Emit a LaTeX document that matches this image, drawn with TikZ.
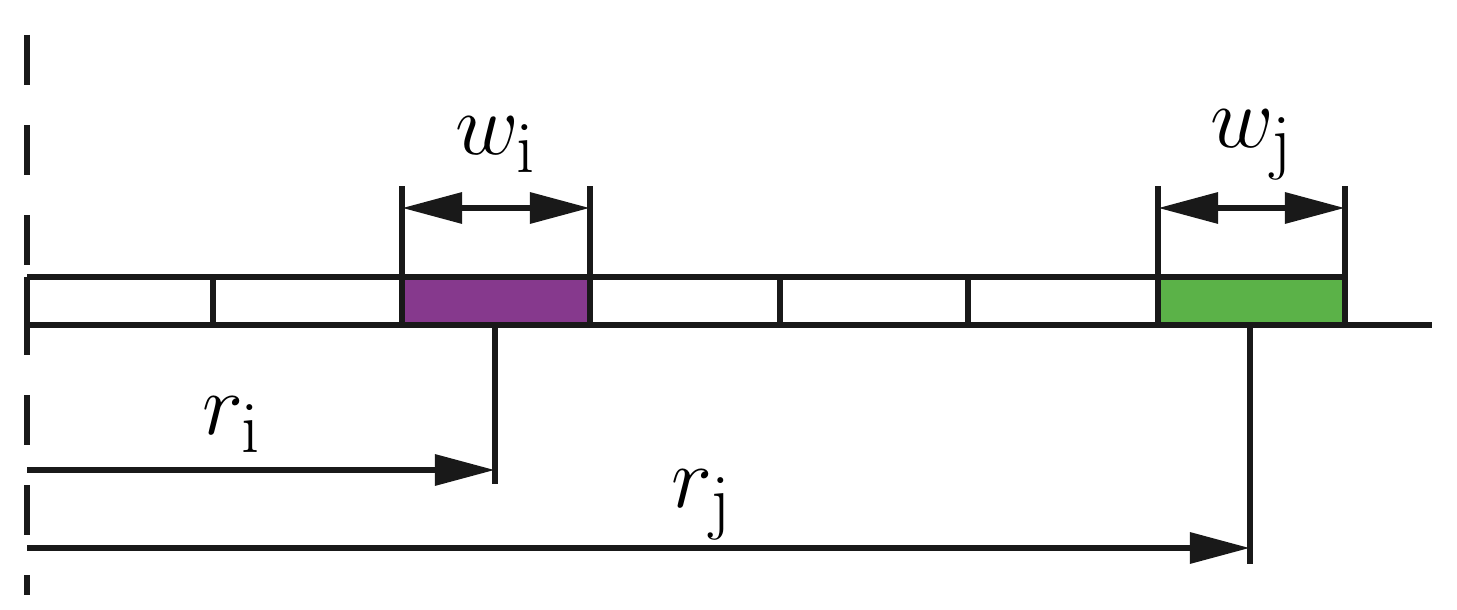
\documentclass[tikz,border=0pt]{standalone}
\usetikzlibrary{arrows.meta}
\definecolor{cellPurple}{RGB}{134,57,141}
\definecolor{cellGreen}{RGB}{91,178,72}
\tikzset{%
  >={Triangle[width=3mm,length=6mm]},
  % Specifications for style of lines and labels:
       axis/.style = {line width=1.8pt, black!90},
    refline/.style = {axis, dash pattern=on 5mm off 4mm},
     symbol/.style = {font=\fontsize{30}{36}\selectfont, inner sep=0pt},
}
\begin{document}
\begin{tikzpicture}[x=0.01cm,y=-0.01cm]
  \useasboundingbox (0,0) rectangle (1457,610);
  % Cells of the strip
  \fill[cellPurple] (402,277) rectangle (590,325);
  \fill[cellGreen] (1158,277) rectangle (1345,325);
  \draw[axis] (27,277) -- (1345,277);
  \draw[axis] (27,325) -- (1432,325);
  \foreach \x in {27,213,402,590,780,968,1158,1345}
    \draw[axis] (\x,277) -- (\x,325);
  % Reference line
  \draw[refline] (27,35) -- (27,595);
  % Width markers
  \foreach \a/\b in {402/590,1158/1345} {
    \draw[axis] (\a,277) -- (\a,186);
    \draw[axis] (\b,277) -- (\b,186);
  }
  \coordinate (wiL) at (402,208);  \coordinate (wiR) at (590,208);
  \coordinate (wjL) at (1158,208); \coordinate (wjR) at (1345,208);
  \draw[axis,<->] (wiL) -- (wiR);
  \draw[axis,<->] (wjL) -- (wjR);
  \node (wi) [symbol] at (496,145) {$w_{\mathrm{i}}$};
  \node (wj) [symbol] at (1252,145) {$w_{\mathrm{j}}$};
  % Radius markers
  \coordinate (ri0) at (27,470);  \coordinate (riE) at (495,470);
  \coordinate (rj0) at (27,548);  \coordinate (rjE) at (1250,548);
  \draw[axis] (495,325) -- (495,484);
  \draw[axis] (1250,325) -- (1250,564);
  \draw[axis,->] (ri0) -- (riE);
  \draw[axis,->] (rj0) -- (rjE);
  \node (ri) [symbol] at (232,425) {$r_{\mathrm{i}}$};
  \node (rj) [symbol] at (702,505) {$r_{\mathrm{j}}$};
\end{tikzpicture}
\end{document}
